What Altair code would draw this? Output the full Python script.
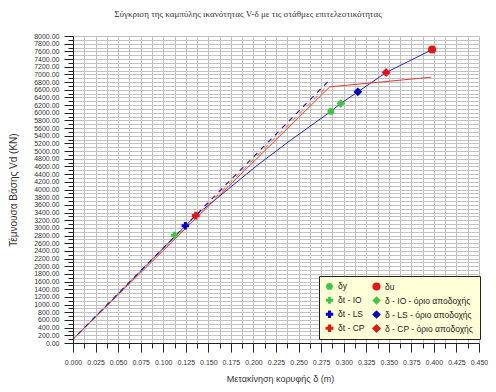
import altair as alt
import pandas as pd

# Capacity curve (blue solid)
x_cap = [0.0, 0.136, 0.2046, 0.2424, 0.2857, 0.2967, 0.3157, 0.347, 0.398]
v_cap = [100, 3320, 4637, 5306, 6034, 6242, 6544, 7048, 7646]

# Bilinear idealisation (red solid)
x_bil = [0.0, 0.2846, 0.397]
v_bil = [100, 6674, 6926]

# Elastic extrapolation (orange dashed)
x_el_or = [0.0, 0.2827]
v_el_or = [100, 6717]

# Elastic extrapolation (blue dashed)
x_el_bl = [0.0, 0.286]
v_el_bl = [100, 6892]

# Performance points (ordered column by column for the 2-column legend)
pt_names = ["δy", "δt - IO", "δt - LS", "δt - CP",
            "δu", "δ - IO - όριο αποδοχής", "δ - LS - όριο αποδοχής", "δ - CP - όριο αποδοχής"]
pt_x = [0.2857, 0.1125, 0.1245, 0.136, 0.398, 0.2967, 0.3157, 0.347]
pt_v = [6034, 2810, 3055, 3319, 7646, 6242, 6544, 7048]
pt_colors = ["#3cc83c", "#3cc83c", "#0000d0", "#e81414",
             "#e81414", "#3cc83c", "#0000d0", "#e81414"]
pt_shapes = ["circle", "cross", "cross", "cross",
             "circle", "diamond", "diamond", "diamond"]
pt_sizes = [45, 80, 80, 80, 45, 70, 70, 70]

x_ticks = [round(i * 0.0125, 5) for i in range(37)]
y_ticks = list(range(0, 8001, 100))

FONT = "Liberation Sans"
xscale = alt.Scale(domain=[0, 0.45], nice=False, zero=False)
yscale = alt.Scale(domain=[0, 8000], nice=False, zero=False)

cap = pd.DataFrame({"x": x_cap, "v": v_cap})
bil = pd.DataFrame({"x": x_bil, "v": v_bil})
elo = pd.DataFrame({"x": x_el_or, "v": v_el_or})
elb = pd.DataFrame({"x": x_el_bl, "v": v_el_bl})
pts = pd.DataFrame({"x": pt_x, "v": pt_v, "name": pt_names})

x_major_test = "round(datum.value * 10000) % 250 == 0"
y_major_test = "round(datum.value) % 200 == 0"

X_AX = alt.X("x:Q", scale=xscale, axis=alt.Axis(
    orient="bottom", values=x_ticks, grid=True, gridColor="#c2c2c2", gridWidth=1,
    labelExpr=f"{x_major_test} ? format(datum.value, '.3f') : ''", labelOverlap=False,
    labelFlush=False,
    tickSize={"condition": {"test": x_major_test, "value": 9}, "value": 5},
    tickColor="#222", domainColor="#222", labelFont=FONT, labelFontSize=7,
    labelColor="#333", labelPadding=6,
    title="Μετακίνηση κορυφής δ (m)", titleFont=FONT, titleFontSize=9,
    titleFontWeight="normal", titleColor="#333",
    titleX=207, titleY=35, titleBaseline="middle", titleAlign="center"))
Y_AX = alt.Y("v:Q", scale=yscale, axis=alt.Axis(
    orient="left", values=y_ticks, grid=True, gridColor="#c2c2c2", gridWidth=1,
    labelExpr=f"{y_major_test} ? format(datum.value, '.2f') : ''", labelOverlap=False,
    labelFlush=False,
    tickSize={"condition": {"test": y_major_test, "value": 9}, "value": 5},
    tickColor="#222", domainColor="#222", labelFont=FONT, labelFontSize=7,
    labelColor="#333", labelPadding=5,
    title="Τέμνουσα Βάσης Vd (KN)", titleFont=FONT, titleFontSize=10,
    titleFontWeight="normal", titleColor="#333", titleAngle=-90,
    titleX=-60, titleY=153.5, titleBaseline="middle", titleAlign="center"))

cap_line = alt.Chart(cap).mark_line(color="#2424b4", strokeWidth=1).encode(x=X_AX, y=Y_AX)
bil_line = alt.Chart(bil).mark_line(color="#e03c3c", strokeWidth=1).encode(x=X_AX, y=Y_AX)
elo_line = alt.Chart(elo).mark_line(color="#ff8a3c", strokeWidth=1.2, strokeDash=[5, 5]).encode(x=X_AX, y=Y_AX)
elb_line = alt.Chart(elb).mark_line(color="#2424c8", strokeWidth=1.2, strokeDash=[5, 5], strokeDashOffset=3).encode(x=X_AX, y=Y_AX)

points = alt.Chart(pts).mark_point(filled=True, opacity=1).encode(
    x=X_AX, y=Y_AX,
    color=alt.Color("name:N", scale=alt.Scale(domain=pt_names, range=pt_colors),
                    legend=alt.Legend(orient="none", legendX=246, legendY=240, columns=2,
                                      title=None, fillColor="#ffffd8", strokeColor="#222",
                                      padding=6, labelFont=FONT, labelFontSize=8.5,
                                      labelColor="#222", rowPadding=5, columnPadding=7,
                                      labelOffset=4, labelLimit=300, symbolStrokeWidth=0)),
    shape=alt.Shape("name:N", scale=alt.Scale(domain=pt_names, range=pt_shapes)),
    size=alt.Size("name:N", scale=alt.Scale(domain=pt_names, range=pt_sizes)),
)

chart = alt.layer(cap_line, bil_line, elo_line, elb_line, points).properties(
    width=406, height=307,
    autosize=alt.AutoSizeParams(type="none"),
    padding={"left": 65, "top": 28, "right": 9, "bottom": 41},
    title=alt.TitleParams("Σύγκριση της καμπύλης ικανότητας V-δ με τις στάθμες επιτελεστικότητας",
                          font="Liberation Serif", fontSize=9, fontWeight="normal",
                          color="#333", anchor="middle", dx=-28, offset=13),
).configure_view(stroke=None)

chart.save("out.html", embed_options={"renderer": "svg", "actions": False})
